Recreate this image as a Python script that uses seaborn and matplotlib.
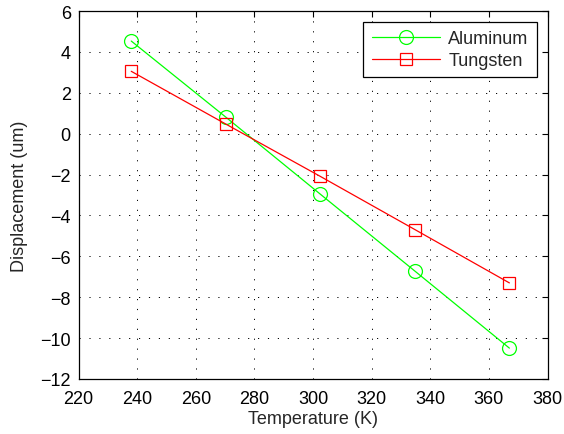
import matplotlib
matplotlib.use("Agg")
import matplotlib.pyplot as plt
import seaborn as sns
import pandas as pd

# Measured displacement vs. temperature for two metals
temperature = [238.0, 270.25, 302.5, 334.75, 367.0]
aluminum = [4.53, 0.81, -2.96, -6.72, -10.49]
tungsten = [3.05, 0.47, -2.09, -4.69, -7.30]

x_ticks = [220, 240, 260, 280, 300, 320, 340, 360, 380]
y_ticks = [-12, -10, -8, -6, -4, -2, 0, 2, 4, 6]

sns.set_style("white")
plt.rcParams["font.family"] = ["Liberation Sans", "DejaVu Sans"]
plt.rcParams["axes.unicode_minus"] = True

FS = 13

fig = plt.figure(figsize=(5.64, 4.35), dpi=100)
ax = fig.add_axes([78.5 / 564, 55 / 435, 469 / 564, 368 / 435])

df_al = pd.DataFrame({"T": temperature, "D": aluminum})
df_w = pd.DataFrame({"T": temperature, "D": tungsten})

sns.lineplot(data=df_al, x="T", y="D", ax=ax, color=(0, 1, 0), lw=0.9,
             marker="o", markersize=10, mfc="none", mec=(0, 1, 0), mew=0.9,
             label="Aluminum")
sns.lineplot(data=df_w, x="T", y="D", ax=ax, color=(1, 0, 0), lw=0.9,
             marker="s", markersize=8.5, mfc="none", mec=(1, 0, 0), mew=0.9,
             label="Tungsten")

ax.set_xlim(220, 380)
ax.set_ylim(-12, 6)
ax.set_xticks(x_ticks)
ax.set_yticks(y_ticks)
ax.set_xlabel("Temperature (K)", fontsize=FS, labelpad=2)
ax.set_ylabel("Displacement (um)", fontsize=FS, labelpad=9)

ax.grid(True, color="black", linestyle=(0, (1.2, 9)), linewidth=0.7)
ax.tick_params(direction="in", length=4, width=0.8, top=True, right=True,
               labelsize=FS, colors="black")
ax.tick_params(axis="x", pad=8)
ax.tick_params(axis="y", pad=5.5)
for sp in ax.spines.values():
    sp.set_visible(True)
    sp.set_color("black")
    sp.set_linewidth(0.9)

leg = ax.legend(loc="upper right", fontsize=FS, frameon=True, fancybox=False,
                edgecolor="black", framealpha=1, borderaxespad=0.6,
                handlelength=3.8, handletextpad=0.45, borderpad=0.45,
                labelspacing=0.28)
leg.get_frame().set_linewidth(0.9)

fig.savefig("out.png", dpi=100)
